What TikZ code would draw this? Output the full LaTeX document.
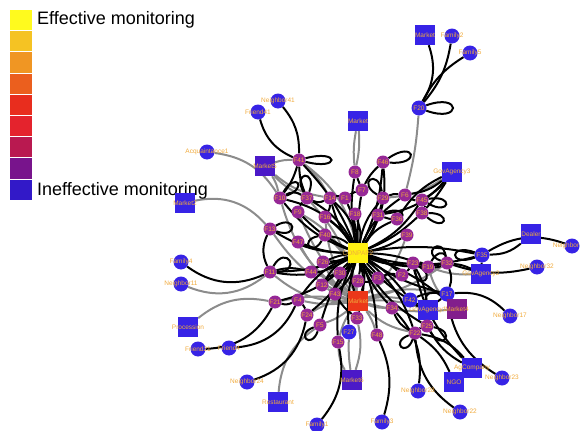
\documentclass[tikz,border=0pt]{standalone}
\usepackage{fontspec}
\setmainfont{Liberation Sans}
\pgfdeclarelayer{edges}
\pgfsetlayers{edges,main}
\definecolor{nodeblue}{RGB}{55,35,230}
\definecolor{nodepurple}{RGB}{150,40,150}
\definecolor{labor}{RGB}{240,170,60}
\definecolor{hubyellow}{RGB}{255,240,20}
\definecolor{mkred}{RGB}{235,55,25}
\definecolor{sqpurple}{RGB}{130,30,140}
\definecolor{sqindigo}{RGB}{75,25,200}
\definecolor{cA}{RGB}{255,250,30}
\definecolor{cB}{RGB}{245,195,35}
\definecolor{cC}{RGB}{240,150,35}
\definecolor{cD}{RGB}{235,95,30}
\definecolor{cE}{RGB}{232,45,30}
\definecolor{cF}{RGB}{228,35,45}
\definecolor{cG}{RGB}{185,25,80}
\definecolor{cH}{RGB}{120,20,140}
\definecolor{cI}{RGB}{50,25,200}
\tikzset{
  lab/.style={text=labor, font=\fontsize{6.5}{7}\selectfont, inner sep=0pt},
  t/.style={label={[lab]center:#1}},
  pc/.style={circle, fill=nodepurple, minimum size=13pt, inner sep=0pt},
  bc/.style={circle, fill=nodeblue, minimum size=15pt, inner sep=0pt},
  bsq/.style={rectangle, fill=nodeblue, minimum size=20pt, inner sep=0pt},
  legsq/.style={rectangle, minimum width=22pt, minimum height=20.2pt, inner sep=0pt},
  legtxt/.style={anchor=base west, font=\fontsize{18}{20}\selectfont, inner sep=0pt},
  blk/.style={draw=black, line width=2pt},
  gry/.style={draw=black!45, line width=2pt}
}
\begin{document}
\begin{tikzpicture}[x=1pt,y=-1pt]
\useasboundingbox (0,0) rectangle (582,431);
% legend
\foreach \k/\c in {0/cA,1/cB,2/cC,3/cD,4/cE,5/cF,6/cG,7/cH,8/cI}
  \node[legsq, fill=\c] (L\k) at (21,20.1+\k*21.2) {};
\node[legtxt] (legE) at (37,24) {Effective monitoring};
\node[legtxt] (legI) at (37,195) {Ineffective monitoring};
% hub and red market
\node[bsq, fill=hubyellow, t=CONPAP2] (hub) at (358,253) {};
\node[bsq, fill=mkred, t=Market] (mkR) at (358,301) {};
% periphery
\node[bsq, t=Market] (mkA) at (425,35) {};
\node[bc, t=Family2] (fam2) at (452,36) {};
\node[bc, t=Family5] (fam5) at (470,53) {};
\node[bc, t=F20] (F20) at (419,108) {};
\node[bsq, t=Market] (mkB) at (358,121) {};
\node[bsq, t=GovAgency3] (gov3) at (452,172) {};
\node[bc, t=Neighbor41] (nb41) at (278,101) {};
\node[bc, t=Friend41] (fr41) at (258,112) {};
\node[bc, t=Acquaintance1] (acq1) at (207,152) {};
\node[bsq, fill=sqindigo, t=Market5] (mk5) at (265,166) {};
\node[bsq, t=Market2] (mk2) at (185,203) {};
\node[bc, t=Family4] (fam4) at (181,262) {};
\node[bc, t=Neighbor11] (nb11) at (181,284) {};
\node[bsq, t=Procession] (proc) at (188,327) {};
\node[bc, t=Friend21] (fr21) at (198,349) {};
\node[bc, t=Friend4] (fr4) at (229,348) {};
\node[bc, t=Neighbor24] (nb24) at (247,382) {};
\node[bsq, t=Restaurant] (rest) at (278,402) {};
\node[bc, t=Family1] (fam1) at (317,425) {};
\node[bsq, fill=sqindigo, t=Market6] (mk6) at (352,380) {};
\node[bc, t=Family3] (fam3) at (382,422) {};
\node[bc, t=Neighbor28] (nb28) at (418,391) {};
\node[bc, t=Neighbor22] (nb22) at (460,412) {};
\node[bsq, t=NGO] (ngo) at (454,382) {};
\node[bsq, t=AgCompany] (agc) at (472,368) {};
\node[bc, t=Neighbor23] (nb23) at (502,378) {};
\node[bc, t=Neighbor17] (nb17) at (510,316) {};
\node[bsq, t=Dealer] (dealer) at (531,234) {};
\node[bc] (nb5) at (572,246) {};
\node[lab] (nb5l) at (566,246) {Neighbor};
\node[bc, t=Neighbor32] (nb32) at (537,267) {};
\node[bsq, t=GovAgency2] (gov2) at (481,274) {};
\node[bc, t=F35] (F35) at (482,255) {};
\node[pc, t=F32] (F32) at (447,263) {};
\node[bc, t=F17] (F17) at (447,294) {};
\node[bsq, fill=sqpurple, t=Market4] (mk4) at (457,309) {};
\node[bsq, t=GovAgency1] (gov1) at (428,310) {};
\node[bc, t=F42] (F42) at (410,300) {};
\node[bc, t=F27] (blueA) at (349,332) {};
% inner purple nodes
\node[pc, t=F46] (F46) at (383,162) {};
\node[pc, t=F41] (F41) at (299,160) {};
\node[pc, t=F8] (F8) at (355,172) {};
\node[pc, t=F10] (F10) at (280,198) {};
\node[pc, t=F37] (F37) at (307,198) {};
\node[pc, t=F14] (F14) at (330,198) {};
\node[pc, t=F1] (F1) at (345,198) {};
\node[pc, t=F7] (F7) at (362,190) {};
\node[pc, t=F29] (F29) at (383,198) {};
\node[pc, t=F6] (F6) at (405,195) {};
\node[pc, t=F45] (F45) at (422,200) {};
\node[pc, t=F9] (F9) at (298,212) {};
\node[pc, t=F16] (F16) at (325,217) {};
\node[pc, t=F18] (F18) at (355,214) {};
\node[pc, t=F31] (F31) at (378,215) {};
\node[pc, t=F36] (F36) at (397,219) {};
\node[pc, t=F38] (F38) at (422,213) {};
\node[pc, t=F13] (F13) at (270,229) {};
\node[pc, t=F40] (F40) at (325,235) {};
\node[pc, t=F47] (F47) at (298,242) {};
\node[pc, t=F39] (F39) at (407,235) {};
\node[pc, t=F11] (F11) at (270,272) {};
\node[pc, t=F26] (F27) at (323,262) {};
\node[pc, t=F44] (F44) at (311,272) {};
\node[pc, t=F30] (F30) at (340,273) {};
\node[pc, t=F12] (F12) at (322,285) {};
\node[pc, t=F28] (F28) at (358,281) {};
\node[pc, t=F3] (F3) at (378,278) {};
\node[pc, t=F2] (F2) at (402,275) {};
\node[pc, t=F23] (F23) at (413,263) {};
\node[pc, t=F19] (F19) at (428,267) {};
\node[pc, t=F43] (F43) at (335,294) {};
\node[pc, t=F21] (F21) at (275,302) {};
\node[pc, t=F4] (F4) at (298,300) {};
\node[pc, t=F24] (F24) at (307,315) {};
\node[pc, t=F5] (F5) at (320,325) {};
\node[pc, t=F33] (F33) at (357,318) {};
\node[pc, t=F15] (F15) at (338,342) {};
\node[pc, t=F48] (F48) at (377,335) {};
\node[pc, t=F34] (F34) at (392,308) {};
\node[pc, t=F22] (F22) at (415,333) {};
\node[pc, t=F25] (F25) at (427,326) {};
\begin{pgfonlayer}{edges}
\foreach \a/\b/\c in {F20/F6/5, mkB/F8/8, mkB/F8/-8, acq1/F10/25, mk5/F10/10, mk5/F37/-10, mk5/F41/10, mk5/F14/-15, mk2/F13/30, nb11/F11/-30, proc/F21/25, rest/F5/25, mk6/F15/15, mk6/F33/-15, mk6/blueA/5, gov2/F19/10, mk4/F19/15, mk4/F17/-10, F41/F14/10, F41/hub/20, gov3/F29/15,
 mkR/F10/20, mkR/F13/15, mkR/F37/-15, mkR/F9/10, mkR/F47/15, mkR/F12/10, mkR/F21/-10, mkR/F4/10, mkR/F24/-15, mkR/F5/10, mkR/F33/5, mkR/F15/-10, mkR/F43/10, mkR/F44/-10, mkR/F27/15, mkR/F30/-10, mkR/F28/10, mkR/F3/-10, mkR/F42/10, mkR/F34/-10, mkR/F48/10, mkR/F22/-15, mkR/gov1/10, mkR/mk4/-10, mkR/F17/15, mkR/F32/-10, mkR/F2/10, mkR/F11/20, mkR/F16/15, mkR/F40/-20, mkR/F9/-25, mkR/F39/-15}
  {\draw[gry] (\a) to[bend left=\c] (\b);}
\foreach \a/\b/\c in {mkA/F20/25, fam2/F20/15, fam5/F20/-15, F46/hub/10, F46/F7/-10, gov3/F6/15, gov3/F45/10, gov3/F36/-15, gov3/F38/5, gov3/F31/20, nb41/F41/20, fr41/F41/-25, F41/F37/-10, F41/F10/10, fam4/F11/-30, F11/hub/-10, F11/F44/15, F11/F13/25, fr21/F21/-30, fr4/F4/-30, nb24/F24/-30, fam1/F15/-25, fam3/F48/-20, nb28/F34/-25, nb22/F22/25, ngo/F22/-15, agc/F25/15, agc/F22/-20, agc/F23/15, nb23/F17/25, nb17/F17/-25, dealer/F35/20, nb5/F35/-25, nb32/F32/15, gov2/F35/0, gov2/F32/-10, gov1/F42/10, gov1/F23/-10, F10/F37/30, F37/F14/-25, F14/F1/20, F9/F37/15, F16/F14/-15, F1/F7/10, F8/F7/0, F29/F6/15, F6/F45/-20, F45/F38/25, F21/F4/-20, F4/F24/15, F43/F33/-10, F12/F30/20, F28/F3/-15, F3/F2/15, F2/F23/-10, F23/F19/20, F19/F32/-15, F32/F17/20, F17/F42/-15, F34/F22/-20, F22/F25/15,
 hub/F8/10, hub/F10/15, hub/F37/-15, hub/F14/10, hub/F1/-10, hub/F7/5, hub/F29/-10, hub/F6/15, hub/F45/-15, hub/F9/10, hub/F16/-10, hub/F18/10, hub/F31/-10, hub/F36/15, hub/F38/-10, hub/F13/15, hub/F40/-15, hub/F47/10, hub/F39/-10, hub/F27/10, hub/F44/-15, hub/F30/15, hub/F12/-15, hub/F28/10, hub/F3/-10, hub/F2/15, hub/F23/-15, hub/F19/10, hub/F32/-15, hub/F35/10, hub/F17/-10, hub/F21/15, hub/F4/-15, hub/F24/10, hub/F5/-10, hub/F33/15, hub/F15/-15, hub/F48/10, hub/F34/-10, hub/F22/15, hub/F25/-15, hub/F42/10, hub/blueA/-10, hub/F43/15, hub/gov1/-10, hub/mk4/10, hub/mkR/20, hub/mkR/-20, hub/F46/-20, hub/F41/-10, hub/F10/-20, hub/F14/-20, hub/F18/-15, hub/F29/15, hub/F11/20, hub/F35/-15}
  {\draw[blk] (\a) to[bend left=\c] (\b);}
\foreach \n/\p/\q/\d in {F20/20/-20/38, F41/15/-15/36, F46/35/-5/32, F11/60/0/26, F37/70/120/24, F29/100/150/24, F45/10/-30/26, F38/0/-40/24, F35/160/200/28, F32/100/160/22, F19/60/10/22, F17/170/220/22, F25/-10/-60/24, F22/200/250/20, F31/-20/20/26, F10/60/20/24, F13/30/-20/24, F5/200/250/20, F23/-80/-30/22, F40/190/240/20}
  {\draw[blk] (\n) to[out=\p, in=\q, min distance=\d pt] (\n);}
\end{pgfonlayer}
\end{tikzpicture}
\end{document}
